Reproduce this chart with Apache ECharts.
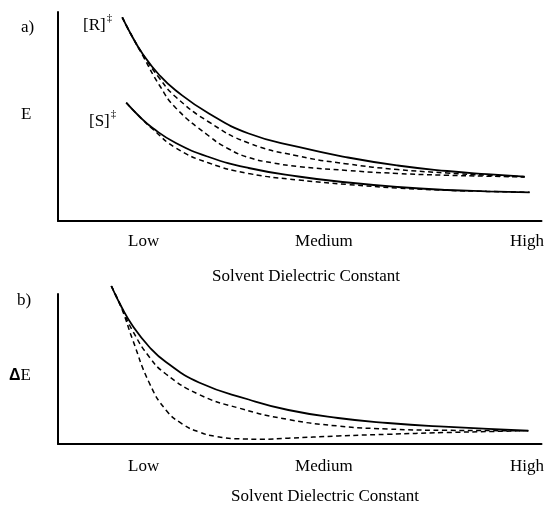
<!DOCTYPE html>
<html>
<head>
<meta charset="utf-8">
<script src="https://cdn.jsdelivr.net/npm/echarts@6/dist/echarts.min.js"></script>
<style>html,body{margin:0;padding:0;background:#fff}#c{width:547px;height:508px}</style>
</head>
<body>
<div id="c"></div>
<script>
// Tick labels (x positions on a 0-100 "dielectric" scale)
var tickValues = [17.7, 55.0, 97.0];
var tickLabels = ['Low', 'Medium', 'High'];

// Panel a: energies of [R]‡ and [S]‡ (0-100 scale)
var rSolid = [[13.29,97.46],[15.40,88.04],[17.52,79.90],[20.94,69.86],[24.37,62.44],[31.21,51.44],[39.43,41.87],[49.69,35.41],[59.96,30.38],[70.23,26.56],[80.49,23.92],[88.71,22.39],[96.51,21.20]];
var rDash1 = [[13.29,97.46],[15.40,88.04],[17.52,79.90],[20.94,68.42],[24.37,59.33],[31.21,47.37],[39.43,37.32],[49.69,31.10],[59.96,27.27],[70.23,24.64],[80.49,22.97],[88.71,21.91],[96.51,21.20]];
var rDash2 = [[13.29,97.46],[15.40,88.04],[17.52,79.19],[20.94,65.07],[24.37,54.07],[31.21,40.67],[35.32,34.45],[39.43,30.38],[44.56,27.75],[49.69,26.08],[59.96,24.16],[70.23,22.73],[80.49,21.87],[88.71,21.44],[96.51,21.05]];
var sSolid = [[14.11,56.60],[16.84,50.00],[19.57,44.50],[24.37,37.32],[31.21,30.62],[39.43,25.36],[49.69,21.29],[59.96,18.42],[70.23,16.27],[80.49,14.83],[88.71,14.21],[97.54,13.73]];
var sDash  = [[14.11,56.60],[16.84,50.00],[19.57,44.02],[24.37,34.93],[31.21,27.75],[39.43,22.73],[49.69,19.62],[59.96,17.46],[70.23,15.79],[80.49,14.69],[88.71,14.16],[97.54,13.73]];

// Panel b: ΔE
var dSolid = [[11.03,105.33],[13.14,91.33],[15.46,78.67],[18.89,64.67],[22.32,54.67],[29.16,41.00],[39.43,29.67],[47.64,22.67],[57.91,17.33],[68.17,14.00],[79.82,11.53],[97.27,8.87]];
var dDash1 = [[11.03,105.33],[13.14,91.00],[15.46,75.33],[18.89,58.00],[22.32,46.67],[29.16,33.00],[37.37,24.00],[47.64,16.33],[57.91,12.00],[68.17,10.00],[79.82,9.13],[97.27,8.87]];
var dDash2 = [[11.03,105.33],[13.14,90.67],[15.46,69.33],[18.89,40.67],[22.32,22.67],[25.73,13.33],[29.16,8.00],[32.59,5.13],[37.37,3.47],[42.51,3.20],[47.64,3.87],[57.91,5.33],[68.17,6.47],[79.82,7.60],[97.27,8.87]];

var serif = 'Liberation Serif';
var chart = echarts.init(document.getElementById('c'), null, {renderer: 'canvas'});

function xAx(idx, margin) {
  return {
    type: 'value', gridIndex: idx, min: 0, max: 100,
    axisLine: {show: true, onZero: false, lineStyle: {color: '#000', width: 2}},
    axisTick: {show: false},
    splitLine: {show: false},
    axisLabel: {
      show: true, customValues: tickValues, margin: margin,
      color: '#000', fontFamily: serif, fontSize: 17,
      formatter: function (v) { var i = tickValues.indexOf(v); return i >= 0 ? tickLabels[i] : ''; }
    }
  };
}
function yAx(idx) {
  return {
    type: 'value', gridIndex: idx, min: 0, max: 100,
    axisLine: {show: true, lineStyle: {color: '#000', width: 2}},
    axisTick: {show: false}, axisLabel: {show: false}, splitLine: {show: false}
  };
}
function ser(data, gi, dashed, z) {
  return {
    type: 'line', xAxisIndex: gi, yAxisIndex: gi, data: data,
    symbol: 'none', smooth: 0.5, clip: false, z: z,
    lineStyle: {color: '#000', width: dashed ? 1.5 : 1.8, type: dashed ? [5, 3.5] : 'solid'}
  };
}

var option = {
  animation: false,
  backgroundColor: '#fff',
  grid: [
    {left: 58, top: 12, width: 487, height: 209},
    {left: 58, top: 294, width: 487, height: 150}
  ],
  xAxis: [xAx(0, 12), xAx(1, 14)],
  yAxis: [yAx(0), yAx(1)],
  series: [
    ser(rDash1, 0, true, 2), ser(rDash2, 0, true, 2), ser(sDash, 0, true, 2),
    ser(rSolid, 0, false, 3), ser(sSolid, 0, false, 3),
    ser(dDash1, 1, true, 2), ser(dDash2, 1, true, 2), ser(dSolid, 1, false, 3)
  ],
  graphic: [
    {type: 'text', left: 21, top: 19, style: {text: 'a)', font: '17px "Liberation Serif"', fill: '#000'}},
    {type: 'text', left: 17, top: 292, style: {text: 'b)', font: '17px "Liberation Serif"', fill: '#000'}},
    {type: 'text', left: 21, top: 106, style: {text: 'E', font: '17px "Liberation Serif"', fill: '#000'}},
    {type: 'text', left: 9, top: 367, style: {
      text: '{d|Δ}{e|E}', rich: {
        d: {fontFamily: 'Liberation Sans', fontWeight: 'bold', fontSize: 16, fill: '#000'},
        e: {fontFamily: serif, fontSize: 17, fill: '#000'}
      }}},
    {type: 'text', left: 83, top: 13, style: {
      text: '{b|[R]}{s|‡}', rich: {
        b: {fontFamily: serif, fontSize: 17, fill: '#000', verticalAlign: 'bottom'},
        s: {fontFamily: serif, fontSize: 11, fill: '#000', verticalAlign: 'top', padding: [0,0,10,1]}
      }}},
    {type: 'text', left: 89, top: 109, style: {
      text: '{b|[S]}{s|‡}', rich: {
        b: {fontFamily: serif, fontSize: 17, fill: '#000', verticalAlign: 'bottom'},
        s: {fontFamily: serif, fontSize: 11, fill: '#000', verticalAlign: 'top', padding: [0,0,10,1]}
      }}},
    {type: 'text', x: 306, y: 277, style: {text: 'Solvent Dielectric Constant', font: '17px "Liberation Serif"', fill: '#000', align: 'center', verticalAlign: 'middle'}},
    {type: 'text', x: 325, y: 497, style: {text: 'Solvent Dielectric Constant', font: '17px "Liberation Serif"', fill: '#000', align: 'center', verticalAlign: 'middle'}}
  ]
};
chart.setOption(option);
</script>
</body>
</html>
